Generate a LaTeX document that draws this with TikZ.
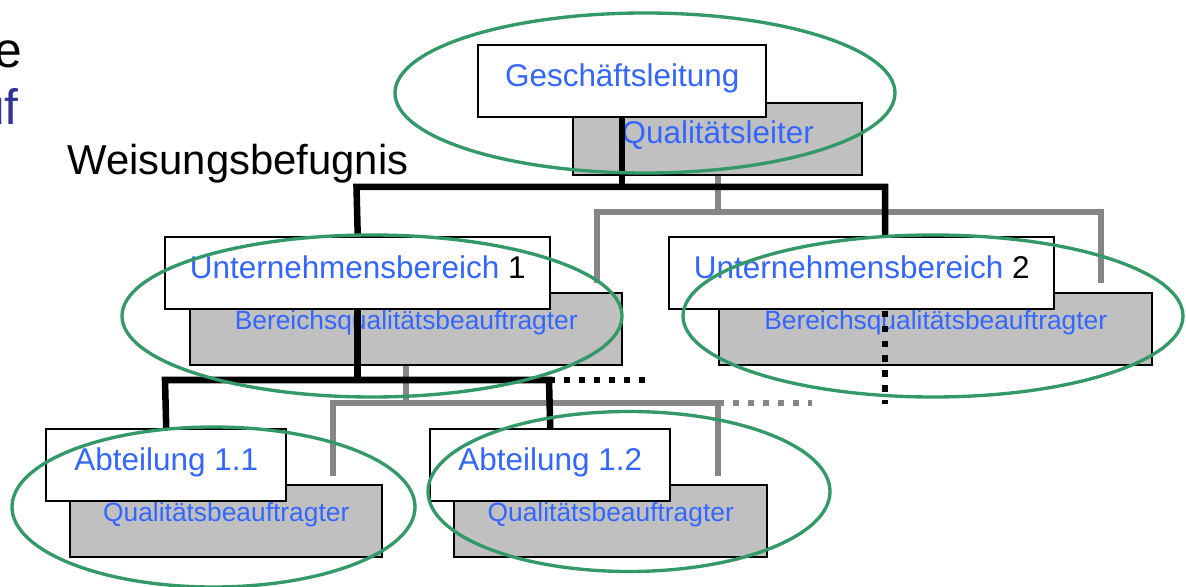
\documentclass[tikz,border=0pt]{standalone}
\usepackage{fontspec}
\setmainfont{Liberation Sans}
\usetikzlibrary{positioning}
\definecolor{textblue}{RGB}{51,102,255}
\definecolor{darkblue}{RGB}{51,51,153}
\definecolor{boxgrey}{RGB}{192,192,192}
\definecolor{linegrey}{RGB}{134,134,134}
\definecolor{ringgreen}{RGB}{51,153,102}
\pgfdeclarelayer{greys}
\pgfdeclarelayer{wires}
\pgfsetlayers{greys,wires,main}
\tikzset{
    orgbox/.style={draw, line width=1.4pt, fill=white, anchor=north west, inner sep=0pt,
        minimum height=14.4mm, text=textblue, font=\fontsize{17.9}{20}\selectfont,
        text height=12.5pt, text depth=6.8pt},
    qbox/.style={draw, line width=1.4pt, fill=boxgrey, anchor=north west, inner sep=0pt,
        minimum height=14.4mm, text=textblue, font=\fontsize{15}{17}\selectfont,
        text height=7.5pt, text depth=7.5pt},
    boss/.style={line width=3.7pt},
    staff/.style={line width=3.5pt, color=linegrey},
    gapline/.style={dash pattern=on 3.6pt off 4.9pt},
    ring/.style={line width=1.9pt, color=ringgreen},
}

\begin{document}
\begin{tikzpicture}[x=0.2mm,y=-0.2mm]
    \useasboundingbox (0,0) rectangle (1186,587);
    \clip (0,0) rectangle (1186,587);

    % cut off headings on the left
    \node[anchor=base east, inner sep=0pt, font=\fontsize{28.3}{30}\selectfont] (headA) at (23,68) {e};
    \node[anchor=base east, inner sep=0pt, text=darkblue, font=\fontsize{28.3}{30}\selectfont] (headB) at (19,125) {uf};
    \node[anchor=base west, inner sep=0pt, font=\fontsize{23.8}{26}\selectfont] (weisung) at (67,175) {Weisungsbefugnis};

    % quality staff boxes
    \begin{pgfonlayer}{greys}
        \node[qbox, minimum width=57.8mm, font=\fontsize{17.9}{20}\selectfont,
            text height=11.3pt, text depth=6.6pt] (ql) at (572,102) {Qualitätsleiter};
        \node[qbox, minimum width=86.4mm] (bq1) at (189,292) {Bereichsqualitätsbeauftragter};
        \node[qbox, minimum width=86.6mm] (bq2) at (718,292) {Bereichsqualitätsbeauftragter};
        \node[qbox, minimum width=62.4mm] (qb1) at (69,484) {Qualitätsbeauftragter};
        \node[qbox, minimum width=62.6mm] (qb2) at (453,484) {Qualitätsbeauftragter};
    \end{pgfonlayer}

    % line organisation
    \node[orgbox, minimum width=57.6mm] (gl) at (477,44) {Geschäftsleitung};
    \node[orgbox, minimum width=77mm] (ub1) at (164,236) {Unternehmensbereich \textcolor{black}{1}};
    \node[orgbox, minimum width=77mm] (ub2) at (668,236) {Unternehmensbereich \textcolor{black}{2}};
    \node[orgbox, minimum width=48mm] (ab1) at (45,428) {Abteilung 1.1};
    \node[orgbox, minimum width=48mm] (ab2) at (429,428) {Abteilung 1.2};

    \coordinate (bl) at (356.5,187);
    \coordinate (br) at (885,187);
    \coordinate (ub2tap) at (885,236);
    \coordinate (ub2end) at (885,404);
    \coordinate (cl) at (165,380);
    \coordinate (cr) at (549,380);
    \coordinate (cend) at (645,380);
    \coordinate (sl) at (597,212);
    \coordinate (sr) at (1101,212);
    \coordinate (slend) at (597,283);
    \coordinate (srend) at (1101,283);
    \coordinate (tl) at (333,403);
    \coordinate (tr) at (718,403);
    \coordinate (tlend) at (333,476);
    \coordinate (trend) at (718,476);
    \coordinate (tend) at (812,403);

    \begin{pgfonlayer}{wires}
        % grey: quality reporting
        \draw[staff] (ql.south) -- (ql.south |- sl);
        \draw[staff] (slend) -- (sl) -- (sr) -- (srend);
        \draw[staff] (bq1.south) -- (bq1.south |- tl);
        \draw[staff] (tlend) -- (tl) -- (tr) -- (trend);
        \draw[staff, gapline] (tr) -- (tend);
        % black: directives
        \draw[boss] (gl.south) -- (gl.south |- bl);
        \draw[boss] (ub1.north) -- (bl) -- (br) -- (ub2tap);
        \draw[boss, gapline] (ub2tap) -- (ub2end);
        \draw[boss] (ub1.south) -- (ub1.south |- cl);
        \draw[boss] (ab1.north) -- (cl) -- (cr) -- (ab2.north);
        \draw[boss, gapline] (cr) -- (cend);
    \end{pgfonlayer}

    % units of one level
    \draw[ring] (645,93) ellipse [x radius=250, y radius=80];
    \draw[ring] (372,316) ellipse [x radius=250, y radius=81];
    \draw[ring] (933,316) ellipse [x radius=250, y radius=81];
    \draw[ring] (213.5,507) ellipse [x radius=201.5, y radius=80];
    \draw[ring] (629,491.5) ellipse [x radius=201, y radius=80];
\end{tikzpicture}
\end{document}
